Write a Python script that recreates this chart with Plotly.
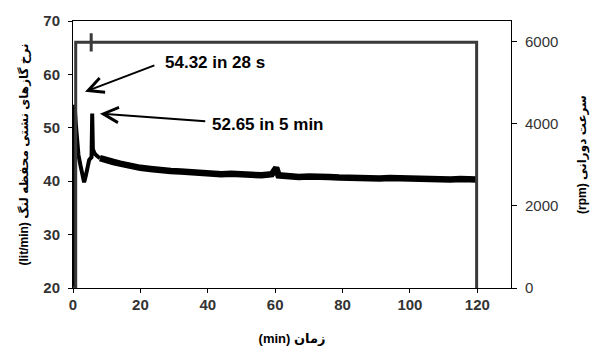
import plotly.graph_objects as go

# Crankcase blow-by flow (lit/min) vs time (min): start-up transient
flow_early_t = [0.4, 0.4, 0.47, 0.8, 1.2, 1.6, 2.2, 2.8, 3.3, 3.8, 4.3, 4.8, 5.5, 5.7, 5.9,
                6.4, 7, 8]
flow_early_v = [20, 27.8, 54.32, 51, 47, 45, 43, 41, 39.8, 41, 43, 44, 44.5, 52.65, 46,
                45.2, 44.8, 44.3]
# Crankcase blow-by flow (lit/min) vs time (min): steady running (noisy band)
flow_late_t = [8, 9, 10, 12, 14, 16, 18, 20, 23, 26, 29, 32, 35, 38, 41, 44, 47, 50, 53,
               56, 59, 60.3, 61, 64, 67, 70, 73, 76, 79, 82, 85, 88, 91, 94, 97, 100, 103,
               106, 109, 112, 115, 118, 119.8]
flow_late_v = [44.3, 44.2, 43.8, 43.6, 43.3, 43.0, 42.8, 42.5, 42.3, 42.0, 41.9, 41.8,
               41.6, 41.6, 41.5, 41.3, 41.4, 41.2, 41.1, 41.1, 41.3, 42.5, 41.1, 40.9, 40.8,
               40.9, 40.7, 40.8, 40.7, 40.6, 40.7, 40.6, 40.5, 40.6, 40.5, 40.5, 40.4, 40.5,
               40.4, 40.3, 40.4, 40.3, 40.3]

# Rotational speed (rpm) vs time (min)
rpm_t = [0, 0.8, 0.8, 5.4, 5.4, 5.4, 5.4, 119.8, 119.8]
rpm_v = [0, 0, 5980, 5980, 6200, 5760, 5980, 5980, 0]

peak1_val, peak1_label = 54.32, "54.32 in 28 s"
peak2_val, peak2_label = 52.65, "52.65 in 5 min"

x_ticks = [0, 20, 40, 60, 80, 100, 120]
y_ticks = [20, 30, 40, 50, 60, 70]
y2_ticks = [0, 2000, 4000, 6000]

FONT = "Arial, 'Liberation Sans', 'DejaVu Sans', sans-serif"

fig = go.Figure()
fig.add_trace(go.Scatter(x=flow_early_t, y=flow_early_v, mode="lines", yaxis="y",
                         line=dict(color="black", width=4), showlegend=False))
fig.add_trace(go.Scatter(x=flow_late_t, y=flow_late_v, mode="lines", yaxis="y",
                         line=dict(color="black", width=6.5), showlegend=False))
fig.add_trace(go.Scatter(x=rpm_t, y=rpm_v, mode="lines", yaxis="y2",
                         line=dict(color="#3a3a3a", width=3), showlegend=False))

tickfont_bold = dict(family=FONT, size=15, color="#333333", weight="bold")

fig.update_layout(
    width=590, height=346,
    margin=dict(l=73, r=79, t=21, b=58),
    plot_bgcolor="white", paper_bgcolor="white",
    xaxis=dict(range=[0, 130], tickvals=x_ticks, ticks="outside", ticklen=4,
               ticklabelstandoff=-1, automargin=False,
               tickcolor="black", showline=True, linecolor="black", linewidth=1,
               mirror=True, showgrid=False, zeroline=False, tickfont=tickfont_bold,
               title=dict(text="(min) زمان", font=dict(family=FONT, size=13, color="black", weight="bold"),
                          standoff=21)),
    yaxis=dict(range=[20, 70], tickvals=y_ticks, ticks="outside", ticklen=4,
               ticklabelstandoff=5, automargin=False,
               tickcolor="black", showline=True, linecolor="black", linewidth=1,
               showgrid=False, zeroline=False, tickfont=tickfont_bold,
               title=dict(text="(lit/min) نرخ گازهای نشتی محفظه لنگ",
                          font=dict(family=FONT, size=12, color="black", weight="bold"),
                          standoff=12)),
    yaxis2=dict(range=[0, 6500], tickvals=y2_ticks, overlaying="y", side="right",
                ticks="outside", ticklen=5, ticklabelstandoff=5, automargin=False,
                tickcolor="black", showline=True,
                linecolor="black", linewidth=1, showgrid=False, zeroline=False,
                tickfont=dict(family=FONT, size=15, color="#333333"),
                title=dict(text="(rpm) سرعت دورانی",
                           font=dict(family=FONT, size=12, color="black", weight="bold"),
                           standoff=23)),
)

ann_font = dict(family=FONT, size=17, color="black", weight="bold")
# arrows
fig.add_annotation(x=3.56, y=56.75, ax=24.6, ay=61.8, xref="x", yref="y",
                   axref="x", ayref="y", text="", showarrow=True,
                   arrowhead=5, arrowsize=1.5, arrowwidth=2, arrowcolor="black")
fig.add_annotation(x=8.0, y=peak2_val, ax=39.7, ay=51.2, xref="x", yref="y",
                   axref="x", ayref="y", text="", showarrow=True,
                   arrowhead=5, arrowsize=1.5, arrowwidth=2, arrowcolor="black")
# labels
fig.add_annotation(x=26.7, y=62.2, xref="x", yref="y", text=peak1_label,
                   showarrow=False, xanchor="left", yanchor="middle", font=ann_font)
fig.add_annotation(x=40.6, y=50.6, xref="x", yref="y", text=peak2_label,
                   showarrow=False, xanchor="left", yanchor="middle", font=ann_font)

fig.write_html("out.html", config={"displayModeBar": False},
               post_script="document.body.style.margin='0';")
